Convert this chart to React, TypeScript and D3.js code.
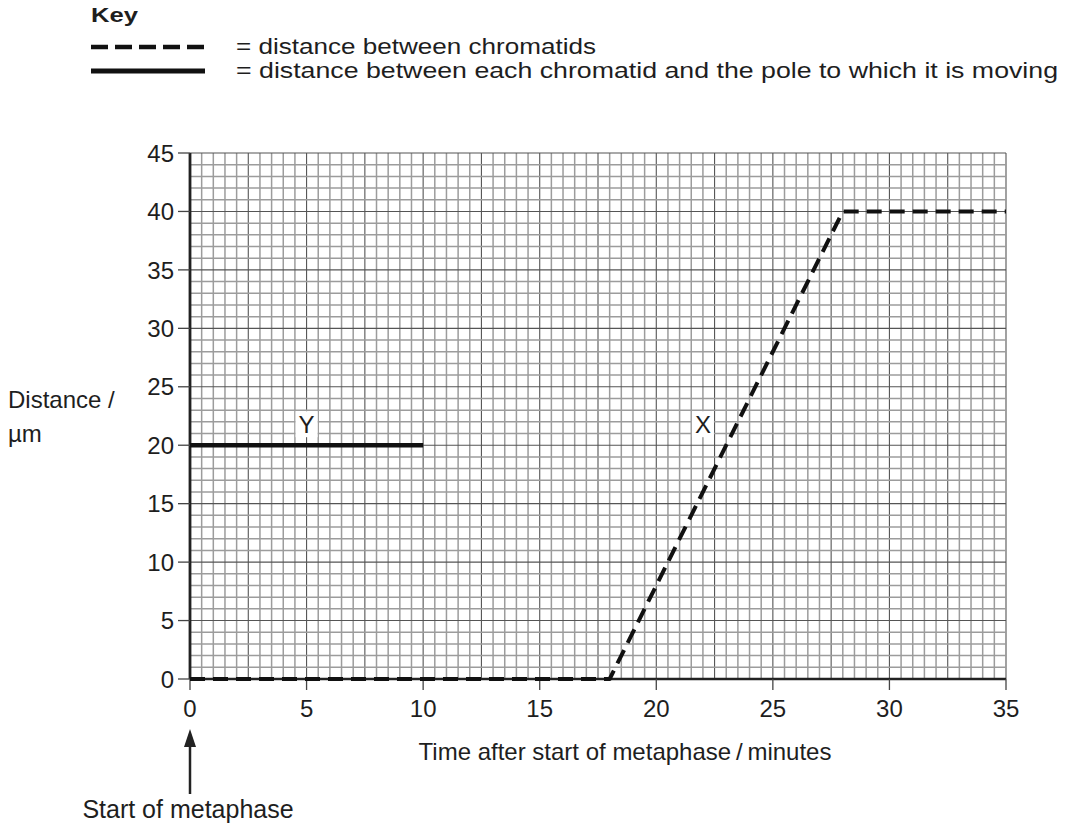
import React from "react";
import * as d3 from "d3";

// Data
const chromatidTimes = [0, 18, 28, 35];
const chromatidDistances = [0, 0, 40, 40];
const poleTimes = [0, 10];
const poleDistances = [20, 20];
const xTicks = [0, 5, 10, 15, 20, 25, 30, 35];
const yTicks = [0, 5, 10, 15, 20, 25, 30, 35, 40, 45];
const keyLabels = [
  "= distance between chromatids",
  "= distance between each chromatid and the pole to which it is moving",
];
const pointLabels = [
  { text: "Y", t: 5, d: 21.8 },
  { text: "X", t: 22, d: 21.8 },
];

const W = 1065;
const H = 829;
const FONT = "'Liberation Sans', Arial, Helvetica, sans-serif";
const INK = "#1e1e1e";

export default function App() {
  const x = d3.scaleLinear().domain([0, 35]).range([190, 1006]);
  const y = d3.scaleLinear().domain([0, 45]).range([679, 153]);

  const minorX = d3.range(0, 35.001, 0.5);
  const minorY = d3.range(0, 45.001, 1);

  const line = d3
    .line<[number, number]>()
    .x((p) => x(p[0]))
    .y((p) => y(p[1]));

  const chromatidPts = chromatidTimes.map((t, i) => [t, chromatidDistances[i]] as [number, number]);
  const polePts = poleTimes.map((t, i) => [t, poleDistances[i]] as [number, number]);

  return (
    <svg
      width={W}
      height={H}
      style={{ position: "absolute", left: 0, top: 0, background: "#fff" }}
      fontFamily={FONT}
    >
      <rect x={0} y={0} width={W} height={H} fill="#fff" />
      {/* Key */}
      <text x={91} y={22} fontSize={21} fontWeight="bold" fill={INK} textLength={47} lengthAdjust="spacingAndGlyphs">
        Key
      </text>
      <line x1={91} x2={205} y1={47} y2={47} stroke="#111" strokeWidth={4.5} strokeDasharray="17 7" />
      <line x1={91} x2={205} y1={71} y2={71} stroke="#111" strokeWidth={5} />
      <text x={236} y={54} fontSize={21.5} fill={INK} textLength={360} lengthAdjust="spacingAndGlyphs">
        {keyLabels[0]}
      </text>
      <text x={236} y={78} fontSize={21.5} fill={INK} textLength={822} lengthAdjust="spacingAndGlyphs">
        {keyLabels[1]}
      </text>

      {/* Grid */}
      <g>
        {minorX.map((v) => (
          <line
            key={"vx" + v}
            x1={x(v)}
            x2={x(v)}
            y1={y(0)}
            y2={y(45)}
            stroke={v % 2.5 === 0 ? "#555" : "#9c9c9c"}
            strokeWidth={v % 2.5 === 0 ? 1.1 : 1.5}
          />
        ))}
        {minorY.map((v) => (
          <line
            key={"hy" + v}
            x1={x(0)}
            x2={x(35)}
            y1={y(v)}
            y2={y(v)}
            stroke={v % 5 === 0 ? "#555" : "#9c9c9c"}
            strokeWidth={v % 5 === 0 ? 1.1 : 1.5}
          />
        ))}
      </g>

      {/* Axes */}
      <line x1={x(0)} x2={x(0)} y1={y(0)} y2={y(45)} stroke="#222" strokeWidth={2.8} />
      <line x1={x(0)} x2={x(35)} y1={y(0)} y2={y(0)} stroke="#222" strokeWidth={2.5} />
      {yTicks.map((v) => (
        <g key={"yt" + v}>
          <line x1={x(0) - 12} x2={x(0)} y1={y(v)} y2={y(v)} stroke="#444" strokeWidth={1.3} />
          <text x={x(0) - 16} y={y(v)} dy="0.36em" textAnchor="end" fontSize={24} fill={INK}>
            {v}
          </text>
        </g>
      ))}
      {xTicks.map((v) => (
        <g key={"xt" + v}>
          <line x1={x(v)} x2={x(v)} y1={y(0)} y2={y(0) + 11} stroke="#444" strokeWidth={1.3} />
          <text x={x(v)} y={y(0) + 38} textAnchor="middle" fontSize={24} fill={INK}>
            {v}
          </text>
        </g>
      ))}

      {/* Data lines */}
      <path
        d={line(chromatidPts) || ""}
        fill="none"
        stroke="#111"
        strokeWidth={4}
        strokeDasharray="15 8"
        strokeLinejoin="round"
      />
      <path d={line(polePts) || ""} fill="none" stroke="#111" strokeWidth={4.5} />

      {/* Point labels */}
      {pointLabels.map((p) => (
        <g key={p.text}>
          <rect x={x(p.t) - 11} y={y(p.d) - 13} width={22} height={26} fill="#fff" />
          <text x={x(p.t)} y={y(p.d)} dy="0.36em" textAnchor="middle" fontSize={24} fill={INK}>
            {p.text}
          </text>
        </g>
      ))}

      {/* Axis titles */}
      <text x={8} y={408} fontSize={24} fill={INK}>
        Distance /
      </text>
      <text x={8} y={442} fontSize={24} fill={INK}>
        µm
      </text>
      <text x={625} y={760} textAnchor="middle" fontSize={24} fill={INK}>
        Time after start of metaphase{"\u2009/\u2009"}minutes
      </text>

      {/* Arrow */}
      <line x1={190} x2={190} y1={794} y2={744} stroke="#222" strokeWidth={2.5} />
      <path d="M190,729 L184,747 L196,747 Z" fill="#222" />
      <text x={188} y={818} textAnchor="middle" fontSize={25} fill={INK}>
        Start of metaphase
      </text>
    </svg>
  );
}
